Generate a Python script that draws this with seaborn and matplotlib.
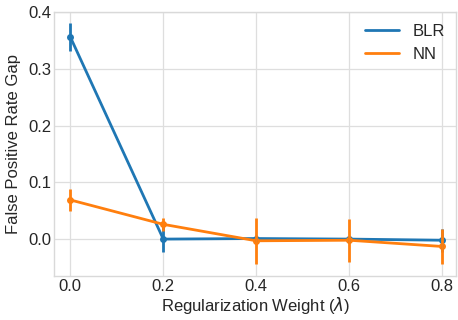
import matplotlib
matplotlib.use("Agg")
import matplotlib.pyplot as plt
import seaborn as sns
import numpy as np
import pandas as pd

lambdas = [0.0, 0.2, 0.4, 0.6, 0.8]
blr_mean = [0.356, 0.000, 0.001, 0.000, -0.002]
blr_err = [0.024, 0.022, 0.006, 0.006, 0.020]
nn_mean = [0.069, 0.026, -0.003, -0.002, -0.013]
nn_err = [0.019, 0.012, 0.040, 0.038, 0.030]

sns.set_theme(style="whitegrid")
plt.rcParams['font.family'] = ['Liberation Sans', 'DejaVu Sans']
plt.rcParams['axes.edgecolor'] = '#d9d9d9'
plt.rcParams['grid.color'] = '#dedede'
plt.rcParams['grid.linewidth'] = 0.9

df = pd.DataFrame({
    "lam": lambdas * 2,
    "gap": blr_mean + nn_mean,
    "model": ["BLR"] * 5 + ["NN"] * 5,
})

fig, ax = plt.subplots(figsize=(4.58, 3.2), dpi=100)
colors = {"BLR": "#1f77b4", "NN": "#ff7f0e"}
sns.lineplot(data=df, x="lam", y="gap", hue="model", palette=colors, ax=ax,
             linewidth=2, marker="o", markersize=5, markeredgewidth=0)
ax.errorbar(lambdas, blr_mean, yerr=blr_err, fmt="none", ecolor=colors["BLR"], elinewidth=2)
ax.errorbar(lambdas, nn_mean, yerr=nn_err, fmt="none", ecolor=colors["NN"], elinewidth=2)

ax.set_ylim(-0.065, 0.4)
ax.set_xlim(-0.035, 0.83)
ax.set_xticks(lambdas)
ax.set_yticks([0.0, 0.1, 0.2, 0.3, 0.4])
ax.set_xlabel(r"Regularization Weight ($\lambda$)", fontsize=12, labelpad=1)
ax.set_ylabel("False Positive Rate Gap", fontsize=12, labelpad=5)
ax.tick_params(labelsize=12, pad=2, length=0)
for sp in ax.spines.values():
    sp.set_linewidth(1.0)
leg = ax.legend(title=None, frameon=False, fontsize=12, loc="upper right",
                handlelength=2.0, borderaxespad=0.3)
for h in leg.legend_handles:
    h.set_marker("")

fig.subplots_adjust(left=0.118, right=0.996, top=0.9625, bottom=0.1375)
fig.savefig("out.png", dpi=100)
